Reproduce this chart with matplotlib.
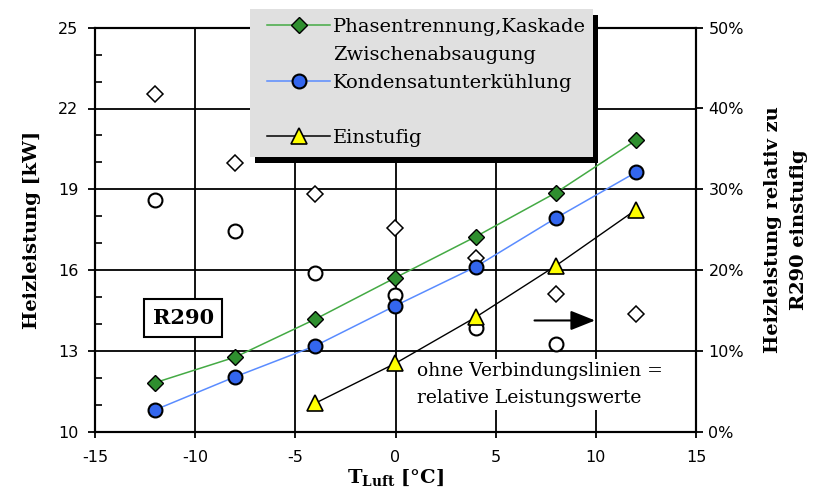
import numpy as np
import matplotlib
matplotlib.use('Agg')
import matplotlib.pyplot as plt
from matplotlib.patches import Rectangle
from matplotlib.lines import Line2D
from matplotlib.ticker import FuncFormatter

plt.rcParams['axes.unicode_minus'] = False

# --------------------------------------------------
# Heizleistung R290 ueber Lufttemperatur
# --------------------------------------------------
t_luft = [-12, -8, -4, 0, 4, 8, 12]
t_einstufig = [-4, 0, 4, 8, 12]

# absolute Heizleistung [kW]
q_phasen = [11.82, 12.77, 14.18, 15.72, 17.24, 18.87, 20.82]
q_kondensat = [10.81, 12.04, 13.19, 14.68, 16.12, 17.93, 19.63]
q_einstufig = [11.06, 12.54, 14.25, 16.16, 18.24]

# relative Mehrleistung gegenueber R290 einstufig [%]
rel_phasen = [41.8, 33.2, 29.4, 25.2, 21.5, 17.1, 14.6]
t_rel_kondensat = [-12, -8, -4, 0, 4, 8]
rel_kondensat = [28.7, 24.8, 19.7, 16.9, 12.8, 10.9]

legend_labels = ['Phasentrennung,Kaskade', 'Zwischenabsaugung',
                 'Kondensatunterkühlung', 'Einstufig']

green_line = '#44aa44'
green_mark = '#2f8f2f'
blue_line = '#5a8cff'
blue_mark = '#3366ee'

W, H = 817, 495
serif = 'DejaVu Serif'
sans = 'DejaVu Sans'


def fx(px):
    return px / W


def fy(py):
    return 1 - py / H


def kw_to_pct(v):
    # linke Achse 10..25 kW liegt deckungsgleich auf rechter Achse 0..50 %
    return (v - 10) / 15 * 50


fig = plt.figure(figsize=(W / 100, H / 100), dpi=100)
ax = fig.add_axes([fx(95), fy(431.7), fx(696) - fx(95), fy(27.7) - fy(431.7)])
ax2 = ax.twinx()

ax.set_xlim(-15, 15)
ax.set_ylim(10, 25)
ax2.set_ylim(0, 50)
ax.set_xticks(np.arange(-15, 16, 5))
ax.set_yticks(np.arange(10, 26, 3))
ax.set_yticks(np.arange(10, 26, 1), minor=True)
ax2.set_yticks(np.arange(0, 51, 10))
ax2.yaxis.set_major_formatter(FuncFormatter(lambda v, p: f'{v:.0f}%'))

# Gitter
for xv in [-10, -5, 0, 5, 10]:
    ax.axvline(xv, color='black', lw=1.3, zorder=1)
for yv in [13, 16, 19, 22]:
    ax.axhline(yv, color='black', lw=1.3, zorder=1)

for a in (ax, ax2):
    for s in a.spines.values():
        s.set_linewidth(1.5)
        s.set_color('black')
ax.tick_params(axis='x', which='major', direction='out', length=4, width=1.3,
               labelsize=11.5, pad=9)
ax.tick_params(axis='y', which='major', direction='out', length=5, width=1.3,
               labelsize=11.5, pad=7)
ax.tick_params(axis='y', which='minor', direction='in', length=5, width=1.2)
ax2.tick_params(axis='y', which='major', direction='out', length=5, width=1.3,
                labelsize=11.5, pad=4)
ax2.tick_params(axis='y', which='minor', length=0)
for lab in ax.get_xticklabels() + ax.get_yticklabels() + ax2.get_yticklabels():
    lab.set_fontfamily(sans)

# relative Werte (rechte Achse, ohne Verbindungslinien)
ax2.set_zorder(ax.get_zorder() + 1)
ax2.patch.set_visible(False)
ax2.plot(t_luft, rel_phasen, linestyle='none', marker='D', ms=8, mfc='white',
         mec='black', mew=1.1, zorder=4)
ax2.plot(t_rel_kondensat, rel_kondensat, linestyle='none', marker='o', ms=10,
         mfc='white', mec='black', mew=1.5, zorder=4)

# absolute Werte (linke Achse)
ax2.plot(t_luft, [kw_to_pct(v) for v in q_phasen], color=green_line, lw=1.1,
         marker='D', ms=8.5, mfc=green_mark, mec='black', mew=1.0, zorder=5)
ax2.plot(t_luft, [kw_to_pct(v) for v in q_kondensat], color=blue_line, lw=1.1,
         marker='o', ms=10, mfc=blue_mark, mec='black', mew=1.5, zorder=5)
ax2.plot(t_einstufig, [kw_to_pct(v) for v in q_einstufig], color='black',
         lw=1.0, marker='^', ms=11, mfc='#ffff00', mec='black', mew=1.2, zorder=5)

# Beschriftungen im Diagramm
ax.text(-10.6, 14.23, 'R290', fontfamily=serif, fontweight='bold', fontsize=15,
        ha='center', va='center', zorder=6,
        bbox=dict(boxstyle='square,pad=0.42', facecolor='white',
                  edgecolor='black', linewidth=1.5))
ax.annotate('', xy=(10.1, 14.13), xytext=(6.8, 14.13),
            arrowprops=dict(arrowstyle='-|>,head_length=1.5,head_width=0.6',
                            color='black', lw=1.5), zorder=6)
ax.text(1.05, 11.75, 'ohne Verbindungslinien =\nrelative Leistungswerte',
        fontfamily=serif, fontsize=13.5, ha='left', va='center', linespacing=1.65,
        zorder=3, bbox=dict(boxstyle='square,pad=0.15', facecolor='white',
                            edgecolor='none'))

ax.set_xlabel(r'T$_{\mathregular{Luft}}$ [°C]', fontfamily=serif, fontweight='bold',
              fontsize=14, labelpad=2)
ax.set_ylabel('Heizleistung [kW]', fontfamily=serif, fontweight='bold', fontsize=14,
              labelpad=12)
ax2.set_ylabel('Heizleistung relativ zu\nR290 einstufig', fontfamily=serif,
               fontweight='bold', fontsize=14, labelpad=14, linespacing=1.6)

# Legende mit Schatten
fig.add_artist(Rectangle((fx(255), fy(163)), fx(598) - fx(255), fy(15) - fy(163),
                         transform=fig.transFigure, facecolor='black',
                         edgecolor='none', zorder=10))
fig.add_artist(Rectangle((fx(250), fy(157)), fx(593) - fx(250), fy(9) - fy(157),
                         transform=fig.transFigure, facecolor='#e0e0e0',
                         edgecolor='none', zorder=11))
handles = [
    (25, dict(color=green_line, marker='D', ms=8.5, mfc=green_mark, mec='black', mew=1.0)),
    (81, dict(color=blue_line, marker='o', ms=10, mfc=blue_mark, mec='black', mew=1.5)),
    (136, dict(color='black', marker='^', ms=11, mfc='#ffff00', mec='black', mew=1.2)),
]
for py, style in handles:
    fig.add_artist(Line2D([fx(267), fx(330)], [fy(py), fy(py)], lw=1.1,
                          color=style['color'], transform=fig.transFigure, zorder=12))
    fig.add_artist(Line2D([fx(298.5)], [fy(py)], transform=fig.transFigure, zorder=13,
                          linestyle='none',
                          **{k: v for k, v in style.items() if k != 'color'}))
for py, label in zip([25, 53, 81, 136], legend_labels):
    fig.text(fx(333), fy(py), label, fontfamily=serif, fontsize=14, ha='left',
             va='center_baseline', zorder=14)

fig.savefig('out.png', dpi=100)
